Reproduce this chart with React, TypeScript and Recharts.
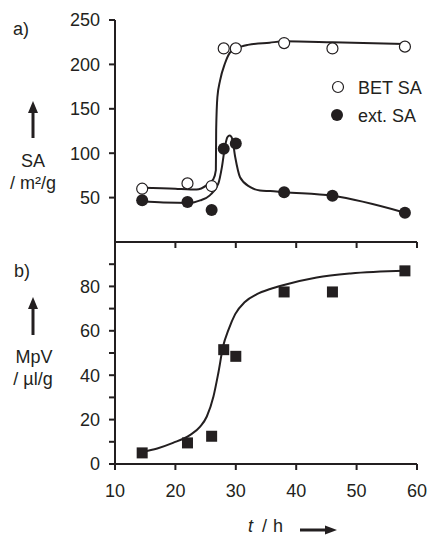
import { ComposedChart, Line, Scatter, XAxis, YAxis } from "recharts";

// measured points (time in h)
const hours = [14.5, 22, 26, 28, 30, 38, 46, 58];
const betSA = [60, 66, 63, 218, 218, 224, 218, 220];
const extSA = [47, 45, 36, 105, 111, 56, 52, 33];
const mpv = [5, 9.5, 12.5, 51.5, 48.5, 77.5, 77.5, 87];

// guide-to-the-eye curves
const betFitT = [14.5, 20, 22.5, 23.5, 25.2, 26.3, 26.7, 26.75, 26.95, 27.4, 28.2, 29, 30.1, 32, 35.6, 38, 46, 58];
const betFitV = [61, 60, 59, 59, 64, 71, 81, 126, 163, 182, 201, 213, 218, 222, 224.5, 226, 225, 223];

const extFitT = [14.5, 18, 22.4, 24.1, 25.7, 27.1, 27.7, 28.2, 28.6, 29, 29.4, 29.9, 30.7, 32.4, 34, 35.7, 38, 46, 58];
const extFitV = [45.5, 44.5, 44, 46.8, 52.5, 65.7, 84.4, 107, 118, 120, 116.5, 95.7, 73, 61.8, 58, 57.3, 56, 52, 33];

const mpvFitT = [14.5, 17, 19.6, 22.4, 24.1, 25.2, 26.3, 27.1, 27.9, 28.8, 29.9, 31.5, 33.5, 35.7, 37.8, 43.4, 49, 58];
const mpvFitV = [5.5, 7, 9.5, 13, 16.8, 21.4, 30.4, 40.9, 53, 60.5, 67.5, 73, 76.5, 78.8, 80.5, 84, 85.8, 87];

const xTicks = [10, 20, 30, 40, 50, 60];
const saTicks = [50, 100, 150, 200, 250];
const mpvTicks = [0, 10, 20, 30, 40, 50, 60, 70, 80, 90];

const toRows = (xs: number[], ys: number[]) => xs.map((x, i) => ({ x, y: ys[i] }));

const betPts = toRows(hours, betSA);
const extPts = toRows(hours, extSA);
const mpvPts = toRows(hours, mpv);
const betFit = toRows(betFitT, betFitV);
const extFit = toRows(extFitT, extFitV);
const mpvFit = toRows(mpvFitT, mpvFitV);

const FONT = "'Liberation Sans', Arial, Helvetica, sans-serif";
const INK = "#231f20";
const tickStyle = { fill: INK, fontSize: 18, fontFamily: FONT };
const axisLine = { stroke: INK, strokeWidth: 2 };

const OpenDot = (p: any) => (
  <circle cx={p.cx} cy={p.cy} r={5.5} fill="#fff" stroke={INK} strokeWidth={1.2} />
);
const FullDot = (p: any) => <circle cx={p.cx} cy={p.cy} r={6} fill={INK} />;
const Square = (p: any) => (
  <rect x={p.cx - 5.5} y={p.cy - 5.5} width={11} height={11} fill={INK} />
);

export default function App() {
  return (
    <div
      style={{
        position: "absolute",
        left: 0,
        top: 0,
        width: 427,
        height: 535,
        background: "#fff",
        fontFamily: FONT,
      }}
    >
      {/* b) micropore volume */}
      <div style={{ position: "absolute", left: 0, top: 0 }}>
        <ComposedChart width={427} height={535} margin={{ top: 242, right: 10, bottom: 0, left: 0 }}>
          <XAxis
            type="number"
            dataKey="x"
            domain={[10, 60]}
            ticks={xTicks}
            height={71}
            tickSize={6}
            tickMargin={14}
            tick={tickStyle}
            axisLine={axisLine}
            tickLine={axisLine}
          />
          <YAxis
            type="number"
            dataKey="y"
            domain={[0, 100]}
            ticks={mpvTicks}
            width={115}
            tickSize={6}
            tickMargin={9}
            tick={tickStyle}
            tickFormatter={(v: number) => (v % 20 === 0 ? String(v) : "")}
            axisLine={axisLine}
            tickLine={axisLine}
          />
          <Line
            data={mpvFit}
            dataKey="y"
            type="monotone"
            stroke={INK}
            strokeWidth={2}
            dot={false}
            isAnimationActive={false}
          />
          <Scatter data={mpvPts} dataKey="y" shape={Square} isAnimationActive={false} />
        </ComposedChart>
      </div>

      {/* a) surface areas */}
      <div style={{ position: "absolute", left: 0, top: 0 }}>
        <ComposedChart width={427} height={260} margin={{ top: 20, right: 10, bottom: 0, left: 0 }}>
          <XAxis
            type="number"
            dataKey="x"
            domain={[10, 60]}
            ticks={xTicks}
            height={18}
            tickSize={6}
            tick={tickStyle}
            tickFormatter={() => ""}
            axisLine={axisLine}
            tickLine={axisLine}
          />
          <YAxis
            type="number"
            dataKey="y"
            domain={[0, 250]}
            ticks={saTicks}
            width={115}
            tickSize={6}
            tickMargin={9}
            tick={tickStyle}
            axisLine={axisLine}
            tickLine={axisLine}
          />
          <Line
            data={betFit}
            dataKey="y"
            type="monotone"
            stroke={INK}
            strokeWidth={2}
            dot={false}
            isAnimationActive={false}
          />
          <Line
            data={extFit}
            dataKey="y"
            type="monotone"
            stroke={INK}
            strokeWidth={2}
            dot={false}
            isAnimationActive={false}
          />
          <Scatter data={betPts} dataKey="y" shape={OpenDot} isAnimationActive={false} />
          <Scatter data={extPts} dataKey="y" shape={FullDot} isAnimationActive={false} />
        </ComposedChart>
      </div>

      {/* panel labels, axis titles, legend */}
      <svg
        width={427}
        height={535}
        style={{ position: "absolute", left: 0, top: 0, pointerEvents: "none" }}
        fontFamily={FONT}
        fontSize={18}
        fill={INK}
      >
        <text x={13} y={35}>a)</text>
        <line x1={33} y1={138} x2={33} y2={110} stroke={INK} strokeWidth={3} />
        <polygon points="33,101 28,113 38,113" fill={INK} />
        <text x={33} y={167} textAnchor="middle">SA</text>
        <text x={33} y={189} textAnchor="middle">/ m²/g</text>

        <text x={14} y={277}>b)</text>
        <line x1={33} y1={335} x2={33} y2={306} stroke={INK} strokeWidth={3} />
        <polygon points="33,297 28,309 38,309" fill={INK} />
        <text x={34} y={363} textAnchor="middle">MpV</text>
        <text x={33} y={385} textAnchor="middle">/ µl/g</text>

        <text x={248} y={532} fontStyle="italic">t</text>
        <text x={262} y={532}>/</text>
        <text x={273} y={532}>h</text>
        <line x1={300} y1={530} x2={326} y2={530} stroke={INK} strokeWidth={3} />
        <polygon points="337,530 325,525.5 325,534.5" fill={INK} />

        <circle cx={338} cy={87} r={5.5} fill="#fff" stroke={INK} strokeWidth={1.2} />
        <text x={358} y={94}>BET SA</text>
        <circle cx={337} cy={115} r={6} fill={INK} />
        <text x={358} y={122}>ext. SA</text>
      </svg>
    </div>
  );
}
